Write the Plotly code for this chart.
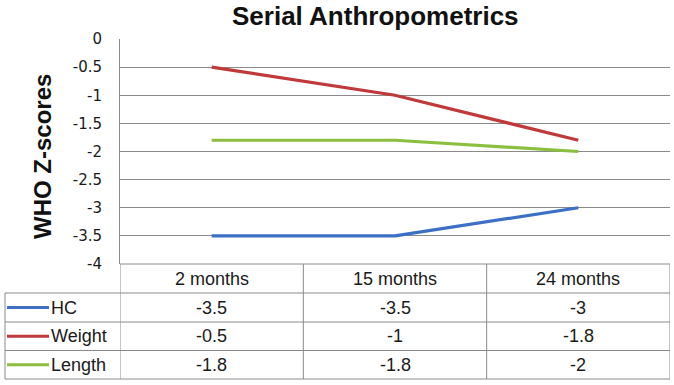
import plotly.graph_objects as go

categories = ["2 months", "15 months", "24 months"]
series_names = ["HC", "Weight", "Length"]
hc = [-3.5, -3.5, -3]
weight = [-0.5, -1, -1.8]
length = [-1.8, -1.8, -2]
colors = ["#3b70c4", "#c0393b", "#8cbf40"]
y_ticks = [0, -0.5, -1, -1.5, -2, -2.5, -3, -3.5, -4]

series = [hc, weight, length]

W, H = 674, 385
L, R, T, B = 120, 4, 39, 121
pw, ph = W - L - R, H - T - B

def px_x(p):
    return (p - L) / pw

def px_y(p):
    return (H - B - p) / ph

xs = list(range(len(categories)))
fig = go.Figure()
for name, vals, col in zip(series_names, series, colors):
    fig.add_trace(go.Scatter(x=xs, y=vals, mode="lines", name=name,
                             line=dict(color=col, width=3.2), showlegend=False))

grid = "#8a8a8a"
shapes = []
rows_px = [264, 293, 322, 350.5, 379]
left_px = 5
shapes.append(dict(type="line", xref="x", yref="paper", x0=-0.5, x1=2.5,
                   y0=px_y(rows_px[0]), y1=px_y(rows_px[0]), line=dict(color=grid, width=1)))
for r in rows_px[1:]:
    shapes.append(dict(type="line", xref="paper", yref="paper", x0=px_x(left_px), x1=1,
                       y0=px_y(r), y1=px_y(r), line=dict(color=grid, width=1)))
for xb in [-0.5, 0.5, 1.5, 2.5]:
    shapes.append(dict(type="line", xref="x", yref="paper", x0=xb, x1=xb,
                       y0=px_y(rows_px[0]), y1=px_y(rows_px[-1]), line=dict(color=grid, width=1)))
shapes.append(dict(type="line", xref="paper", yref="paper", x0=px_x(left_px), x1=px_x(left_px),
                   y0=px_y(rows_px[1]), y1=px_y(rows_px[-1]), line=dict(color=grid, width=1)))

annotations = []
tfont = dict(family="Liberation Sans, Arial", size=18, color="#1a1a1a")
for i, c in enumerate(categories):
    annotations.append(dict(x=i, xref="x", y=px_y((rows_px[0] + rows_px[1]) / 2), yref="paper",
                            text=c, showarrow=False, font=tfont, xanchor="center", yanchor="middle"))
for ri, (name, vals, col) in enumerate(zip(series_names, series, colors)):
    yc = px_y((rows_px[ri + 1] + rows_px[ri + 2]) / 2)
    shapes.append(dict(type="line", xref="paper", yref="paper", x0=px_x(7), x1=px_x(49),
                       y0=yc, y1=yc, line=dict(color=col, width=3.2)))
    annotations.append(dict(x=px_x(49), xref="paper", y=yc, yref="paper", text=name,
                            showarrow=False, font=tfont, xanchor="left", yanchor="middle"))
    for i, v in enumerate(vals):
        annotations.append(dict(x=i, xref="x", y=yc, yref="paper", text=f"{v:g}",
                                showarrow=False, font=tfont, xanchor="center", yanchor="middle"))

annotations.append(dict(x=px_x(375), xref="paper", y=px_y(16), yref="paper",
                        text="<b>Serial Anthropometrics</b>", showarrow=False,
                        font=dict(family="Liberation Sans, Arial", size=26, color="#111"),
                        xanchor="center", yanchor="middle"))
annotations.append(dict(x=px_x(42), xref="paper", y=px_y(157), yref="paper",
                        text="<b>WHO Z-scores</b>", showarrow=False, textangle=-90,
                        font=dict(family="Liberation Sans, Arial", size=24, color="#111"),
                        xanchor="center", yanchor="middle"))

fig.update_layout(
    width=W, height=H,
    margin=dict(l=L, r=R, t=T, b=B, pad=0),
    paper_bgcolor="white", plot_bgcolor="white",
    shapes=shapes, annotations=annotations,
    xaxis=dict(range=[-0.5, 2.5], showgrid=False, zeroline=False, showticklabels=False,
               showline=False, fixedrange=True),
    yaxis=dict(range=[-4, 0], tickvals=y_ticks, ticktext=[f"{v:g}" for v in y_ticks],
               showgrid=True, gridcolor=grid, gridwidth=1, zeroline=False,
               showline=True, linecolor=grid, linewidth=1,
               ticks="", ticklabelstandoff=14,
               tickfont=dict(family="DejaVu Sans", size=15, color="#1a1a1a")),
)

fig.write_html("out.html", config={"displayModeBar": False},
               post_script="document.body.style.margin='0';")
